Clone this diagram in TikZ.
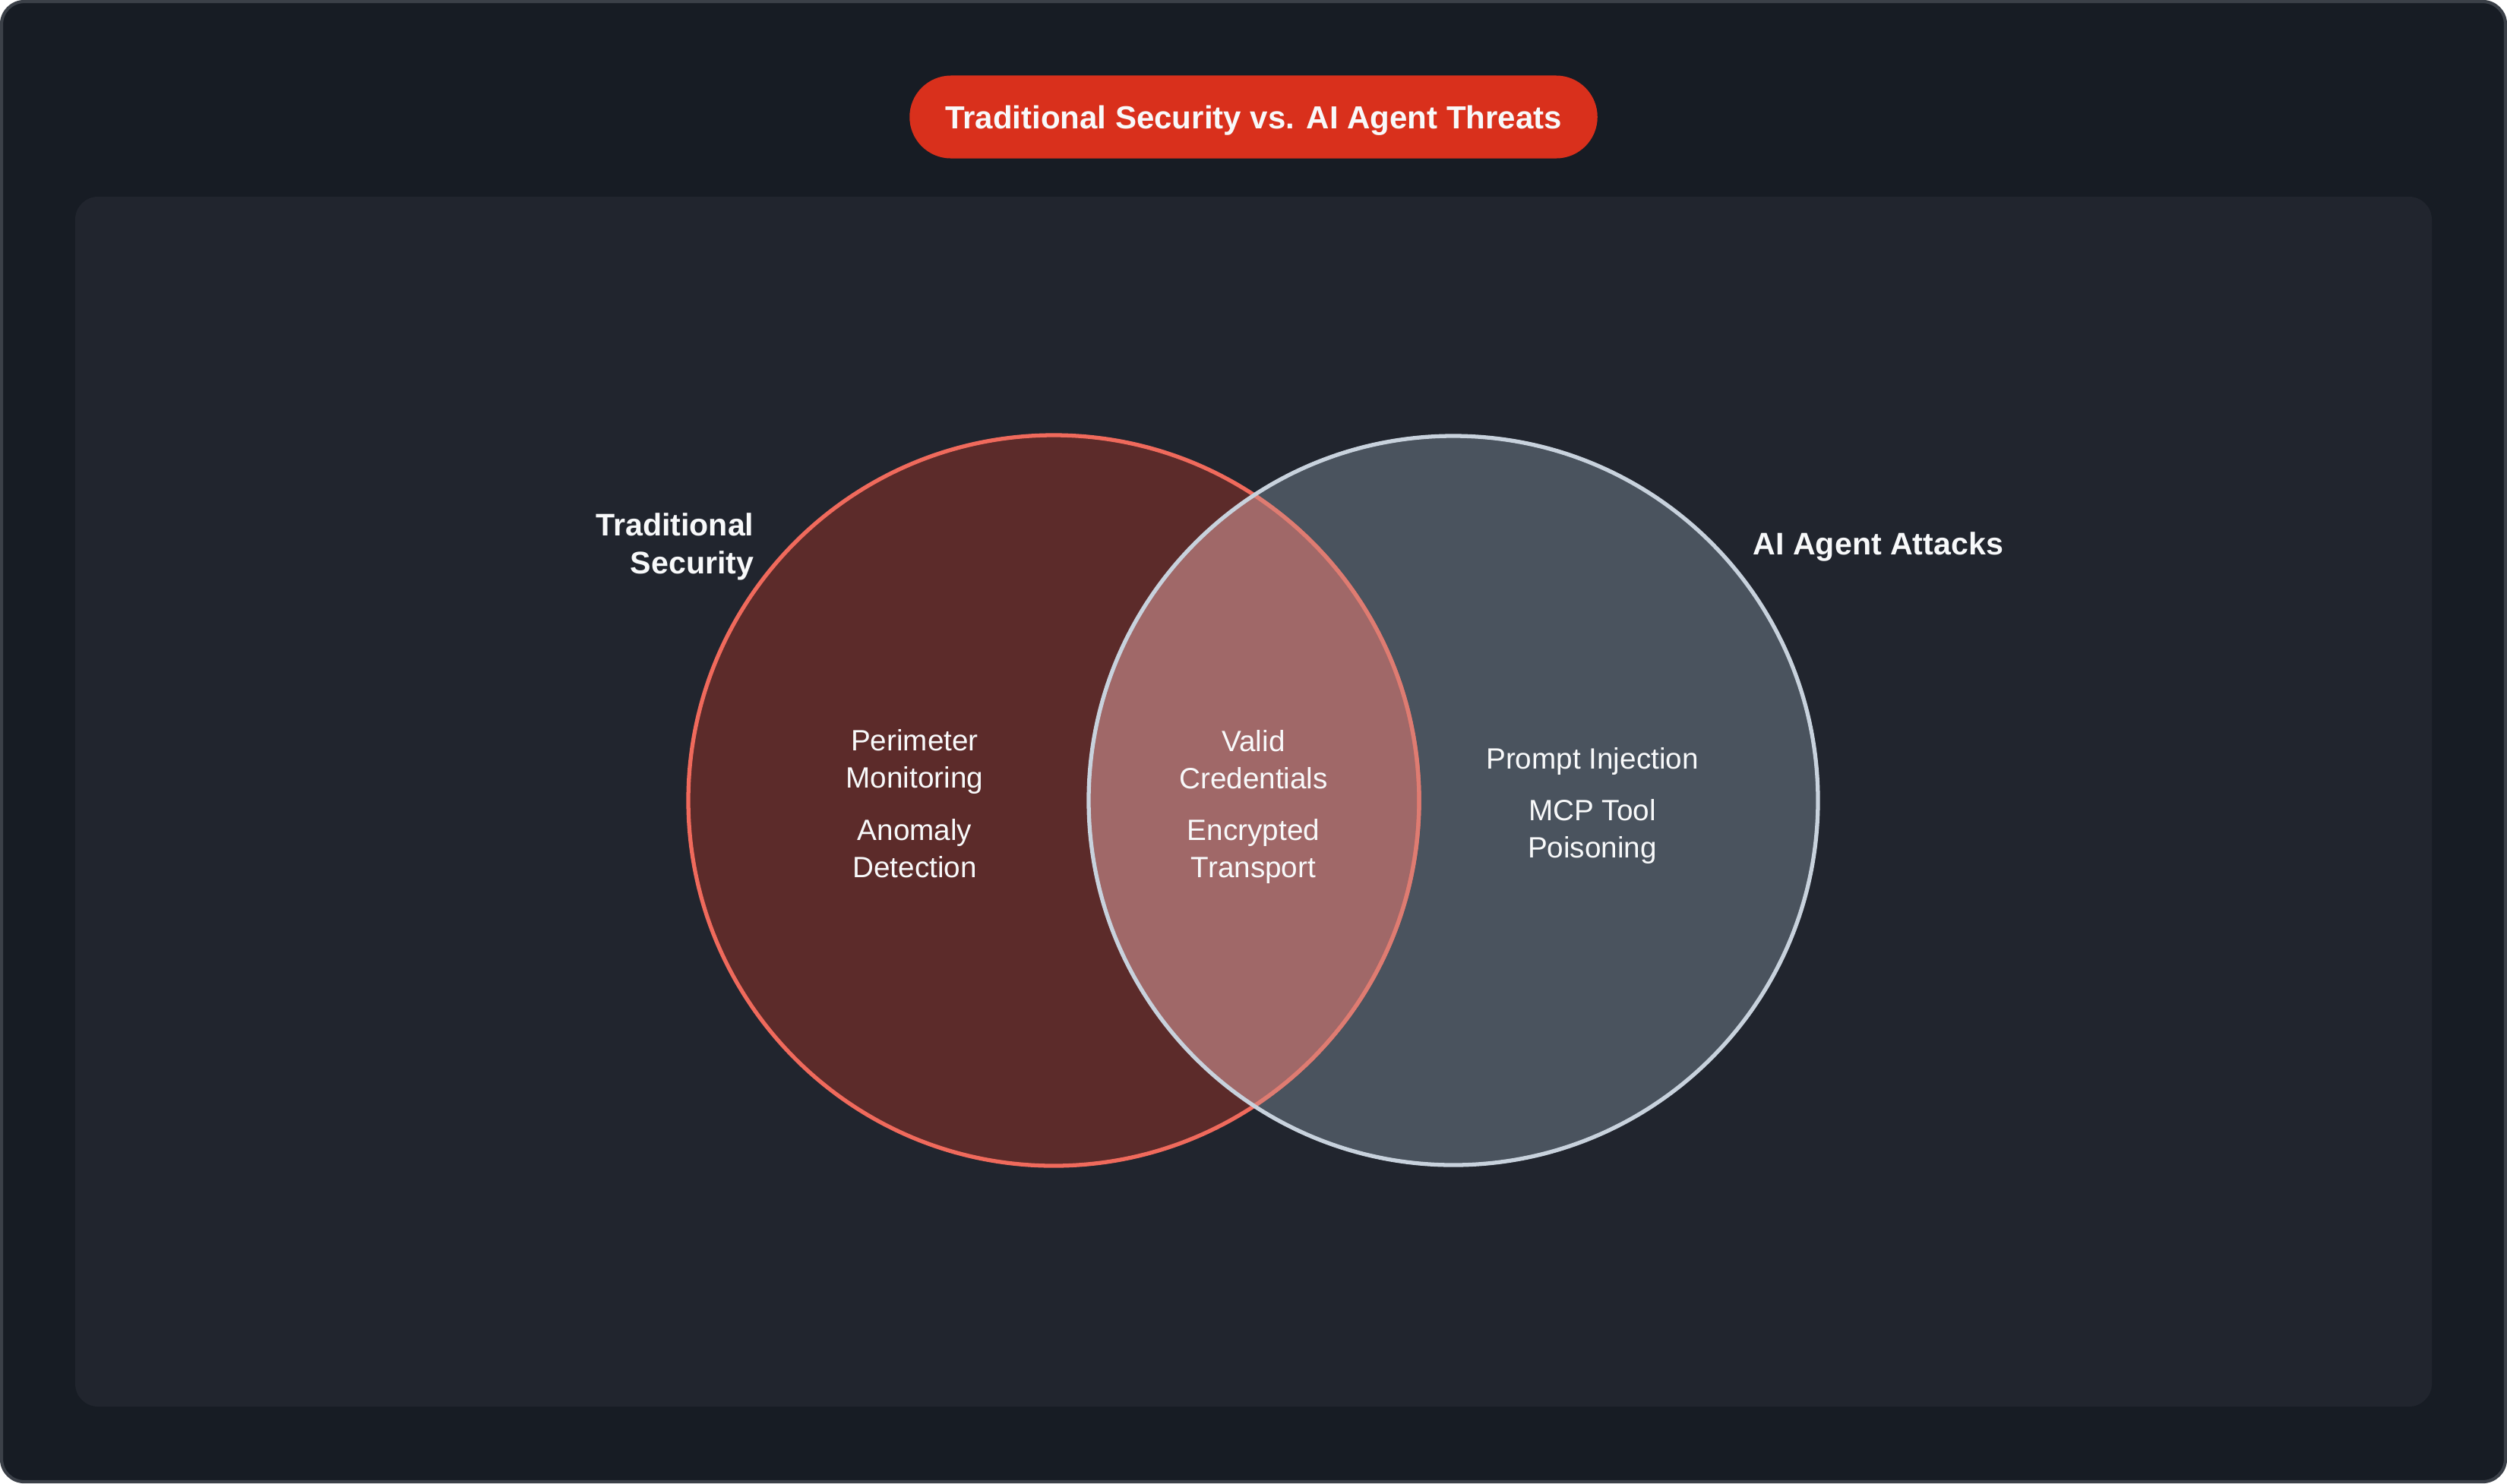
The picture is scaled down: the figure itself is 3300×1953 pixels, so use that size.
\documentclass[tikz,border=0pt]{standalone}
\usepackage{fontspec}
\setmainfont{Liberation Sans}
\definecolor{framebg}{HTML}{171C24}
\definecolor{frameline}{HTML}{3B4048}
\definecolor{panelbg}{HTML}{21252E}
\definecolor{titlered}{HTML}{D9301C}
\definecolor{tradfill}{HTML}{5C2B2A}
\definecolor{tradline}{HTML}{F06A5C}
\definecolor{aifill}{HTML}{4A535E}
\definecolor{ailine}{HTML}{C8D2DD}
\definecolor{bothfill}{HTML}{A06868}
\definecolor{bothline}{HTML}{DE7C72}
\definecolor{txtwhite}{HTML}{F8F9FA}

\begin{document}
\begin{tikzpicture}[x=0.01cm,y=-0.01cm,
  item/.style={text=txtwhite, align=center, font=\fontsize{11}{13.9}\selectfont},
  setlabel/.style={text=txtwhite, inner sep=0pt, font=\bfseries\fontsize{11.7}{14.2}\selectfont}]
  \useasboundingbox (0,0) rectangle (3300,1953);
  % Bakgrund
  \draw[fill=framebg, draw=frameline, line width=1.2pt, rounded corners=0.3cm]
    (2,2) rectangle (3298,1951);
  \fill[panelbg, rounded corners=0.3cm] (99,259) rectangle (3201,1852);
  % Rubrik
  \node[fill=titlered, rounded corners=0.545cm, minimum width=9.05cm,
    minimum height=1.09cm, text depth=0pt, text=txtwhite,
    font=\bfseries\fontsize{11.95}{14}\selectfont]
    (title) at (1650,154) {Traditional Security vs. AI Agent Threats};
  % Cirklar
  \fill[tradfill] (1387,1054) circle (481);
  \fill[aifill] (1913,1054) circle (480);
  \begin{scope}
    \clip (1387,1054) circle (481);
    \fill[bothfill] (1913,1054) circle (480);
  \end{scope}
  \draw[tradline, line width=1.5pt] (1387,1054) circle (481);
  \begin{scope}
    \clip (1913,1054) circle (480);
    \draw[bothline, line width=1.5pt] (1387,1054) circle (481);
  \end{scope}
  \draw[ailine, line width=1.5pt] (1913,1054) circle (480);
  % Etiketter
  \node[setlabel, align=right, anchor=east] (trad) at (993,720) {Traditional\\Security};
  \node[setlabel, anchor=west] (ai) at (2307,720) {AI Agent Attacks};
  % Innehall
  \node[item] (perim) at (1204,1003) {Perimeter\\Monitoring};
  \node[item] (anom) at (1204,1117) {Anomaly\\Detection};
  \node[item] (valid) at (1650,1000) {Valid\\Credentials};
  \node[item] (encr) at (1650,1121) {Encrypted\\Transport};
  \node[item] (prompt) at (2096,1002) {Prompt Injection};
  \node[item] (mcp) at (2096,1095) {MCP Tool\\Poisoning};
\end{tikzpicture}
\end{document}
